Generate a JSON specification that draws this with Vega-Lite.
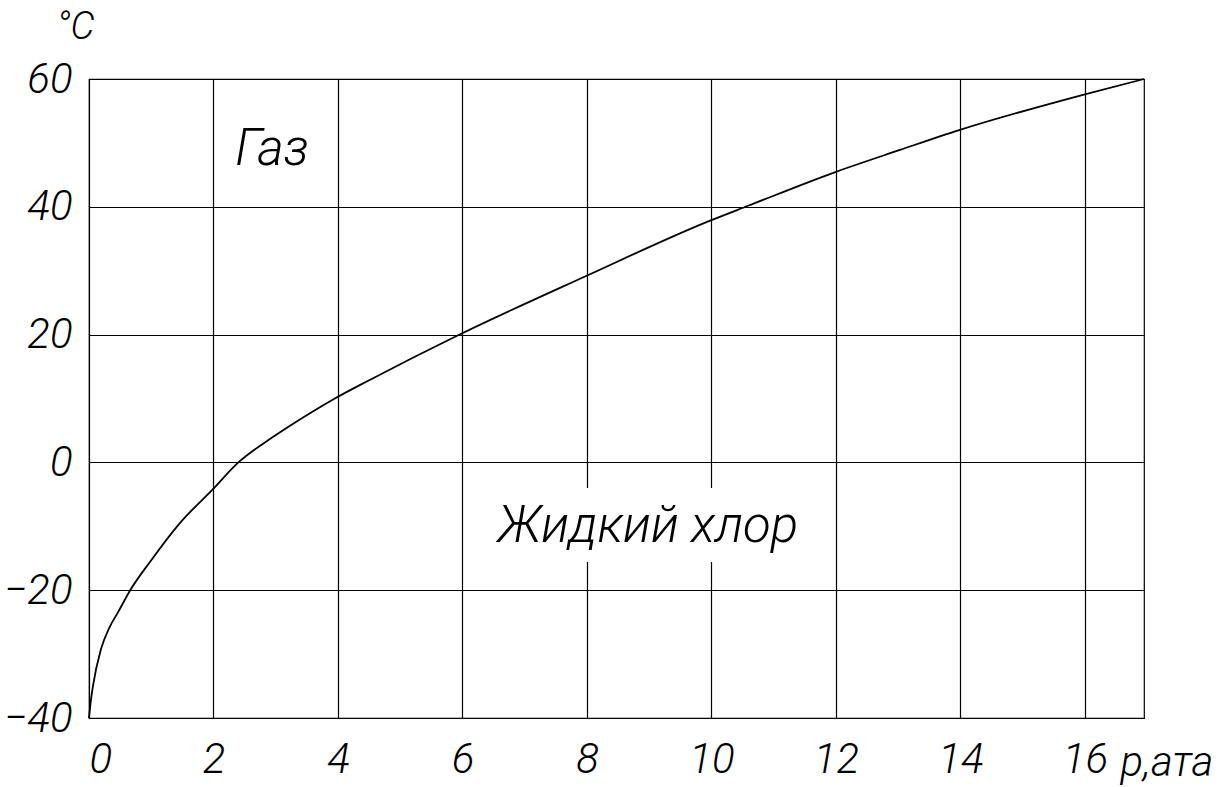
{
  "$schema": "https://vega.github.io/schema/vega-lite/v6.json",
  "autosize": {"type": "none"},
  "width": 1055,
  "height": 639,
  "padding": {"left": 89, "top": 79, "right": 81, "bottom": 69},
  "background": "white",
  "config": {
    "view": {"stroke": "black", "strokeWidth": 1.2},
    "axis": {
      "grid": true,
      "gridColor": "black",
      "gridOpacity": 1,
      "gridWidth": 1.2,
      "domain": false,
      "ticks": false,
      "labelFont": "Roboto",
      "labelFontStyle": "italic",
      "labelFontWeight": 300,
      "labelFontSize": 42,
      "labelColor": "black",
      "titleFont": "Roboto",
      "titleFontStyle": "italic",
      "titleFontWeight": 300,
      "titleFontSize": 42,
      "titleColor": "black"
    }
  },
  "datasets": {
    "curve": [
      {"p": 0, "t": -40},
      {"p": 0.03, "t": -37.3},
      {"p": 0.06, "t": -35.2},
      {"p": 0.19, "t": -29.3},
      {"p": 0.33, "t": -25.8},
      {"p": 0.47, "t": -23.4},
      {"p": 0.65, "t": -20.2},
      {"p": 1.0, "t": -15.3},
      {"p": 1.46, "t": -9.5},
      {"p": 1.98, "t": -4.3},
      {"p": 2.4, "t": 0},
      {"p": 2.96, "t": 4.0},
      {"p": 3.55, "t": 7.7},
      {"p": 3.95, "t": 10.0},
      {"p": 4.51, "t": 12.9},
      {"p": 5.93, "t": 19.9},
      {"p": 7.97, "t": 29.1},
      {"p": 9.97, "t": 37.8},
      {"p": 10.6, "t": 40.2},
      {"p": 11.98, "t": 45.4},
      {"p": 13.03, "t": 48.9},
      {"p": 13.98, "t": 52.0},
      {"p": 16.0, "t": 57.6},
      {"p": 16.95, "t": 60.0}
    ],
    "labels": [
      {"label": "Газ", "p": 2.94, "t": 48.9},
      {"label": "Жидкий хлор", "p": 8.98, "t": -10.1}
    ],
    "bg": [
      {"p1": 6.6, "p2": 11.35, "t1": -4.0, "t2": -15.6}
    ]
  },
  "layer": [
    {
      "data": {"name": "bg"},
      "mark": {"type": "rect", "color": "white"},
      "encoding": {
        "x": {"field": "p1", "type": "quantitative", "scale": {"domain": [0, 16.95], "nice": false, "zero": false},
          "axis": {"values": [0, 2, 4, 6, 8, 10, 12, 14, 16], "format": "d", "labelPadding": 21, "title": "p,ата", "titleX": 1031, "titleY": 57, "titleAlign": "left", "titleBaseline": "alphabetic", "titleAnchor": null}},
        "x2": {"field": "p2"},
        "y": {"field": "t1", "type": "quantitative", "scale": {"domain": [-40, 60], "nice": false, "zero": false},
          "axis": {"values": [-40, -20, 0, 20, 40, 60], "format": "d", "labelPadding": 17, "title": "°C", "titleAngle": 0, "titleX": -14, "titleY": -41, "titleAlign": "center", "titleBaseline": "alphabetic", "titleFontSize": 38}},
        "y2": {"field": "t2"}
      }
    },
    {
      "data": {"name": "curve"},
      "mark": {"type": "line", "color": "black", "strokeWidth": 1.8, "interpolate": "monotone"},
      "encoding": {
        "x": {"field": "p", "type": "quantitative"},
        "y": {"field": "t", "type": "quantitative"}
      }
    },
    {
      "data": {"name": "labels"},
      "mark": {"type": "text", "font": "Roboto", "fontStyle": "italic", "fontWeight": 300, "fontSize": 51, "color": "black", "align": "center", "baseline": "middle"},
      "encoding": {
        "x": {"field": "p", "type": "quantitative"},
        "y": {"field": "t", "type": "quantitative"},
        "text": {"field": "label"}
      }
    }
  ]
}
